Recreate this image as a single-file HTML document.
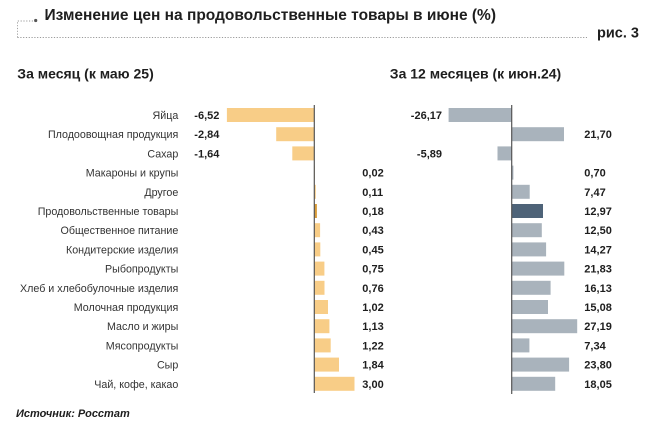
<!DOCTYPE html>
<html><head><meta charset="utf-8"><style>
html,body{margin:0;padding:0;background:#fff;}
svg{display:block;}
text{font-family:"Liberation Sans",Arial,sans-serif;}
</style></head><body>
<svg width="650" height="424" viewBox="0 0 650 424" xmlns="http://www.w3.org/2000/svg">
<rect width="650" height="424" fill="#fff"/>
<!-- header frame -->
<path d="M17.5 37.5 L17.5 21 L33 21" fill="none" stroke="#9a9a9a" stroke-width="0.9" stroke-dasharray="1.2,1.6"/>
<path d="M17.5 37.5 L587 37.5" fill="none" stroke="#9a9a9a" stroke-width="0.9" stroke-dasharray="1.2,1.6"/>
<circle cx="35.7" cy="20.5" r="1.6" fill="#555"/>
<text x="44.5" y="20" font-size="15.5" font-weight="bold" fill="#1e1e1e">Изменение цен на продовольственные товары в июне (%)</text>
<text x="597" y="37.5" font-size="14.5" font-weight="bold" fill="#1e1e1e">рис. 3</text>
<text x="17.3" y="78.3" font-size="14" font-weight="bold" fill="#1e1e1e">За месяц (к маю 25)</text>
<text x="389.8" y="78.3" font-size="14" font-weight="bold" fill="#1e1e1e">За 12 месяцев (к июн.24)</text>

<!-- left bars -->
<g fill="#F8CD87">
<rect x="226.9" y="108" width="87.4" height="14"/>
<rect x="276.2" y="127.2" width="38.1" height="14"/>
<rect x="292.3" y="146.4" width="22" height="14"/>
<rect x="314.3" y="165.6" width="0.5" height="14"/>
<rect x="314.3" y="184.8" width="1.5" height="14"/>
<rect x="314.3" y="204" width="2.6" height="14" fill="#D89C3A"/>
<rect x="314.3" y="223.2" width="5.8" height="14"/>
<rect x="314.3" y="242.4" width="6" height="14"/>
<rect x="314.3" y="261.6" width="10.1" height="14"/>
<rect x="314.3" y="280.8" width="10.2" height="14"/>
<rect x="314.3" y="300" width="13.7" height="14"/>
<rect x="314.3" y="319.2" width="15.1" height="14"/>
<rect x="314.3" y="338.4" width="16.4" height="14"/>
<rect x="314.3" y="357.6" width="24.7" height="14"/>
<rect x="314.3" y="376.8" width="40.2" height="14"/>
</g>
<line x1="314.3" y1="105" x2="314.3" y2="393" stroke="#555" stroke-width="1.2"/>

<!-- right bars -->
<g fill="#A9B3BC">
<rect x="448.6" y="108" width="63.1" height="14"/>
<rect x="511.7" y="127.2" width="52.3" height="14"/>
<rect x="497.5" y="146.4" width="14.2" height="14"/>
<rect x="511.7" y="165.6" width="1.7" height="14"/>
<rect x="511.7" y="184.8" width="18" height="14"/>
<rect x="511.7" y="204" width="31.3" height="14" fill="#4E6378"/>
<rect x="511.7" y="223.2" width="30.1" height="14"/>
<rect x="511.7" y="242.4" width="34.4" height="14"/>
<rect x="511.7" y="261.6" width="52.6" height="14"/>
<rect x="511.7" y="280.8" width="38.9" height="14"/>
<rect x="511.7" y="300" width="36.3" height="14"/>
<rect x="511.7" y="319.2" width="65.5" height="14"/>
<rect x="511.7" y="338.4" width="17.7" height="14"/>
<rect x="511.7" y="357.6" width="57.4" height="14"/>
<rect x="511.7" y="376.8" width="43.5" height="14"/>
</g>
<line x1="511.7" y1="105" x2="511.7" y2="394" stroke="#555" stroke-width="1.2"/>

<!-- categories -->
<g font-size="10.7" fill="#333" text-anchor="end">
<text x="178.3" y="119">Яйца</text>
<text x="178.3" y="138.2">Плодоовощная продукция</text>
<text x="178.3" y="157.4">Сахар</text>
<text x="178.3" y="176.6">Макароны и крупы</text>
<text x="178.3" y="195.8">Другое</text>
<text x="178.3" y="215">Продовольственные товары</text>
<text x="178.3" y="234.2">Общественное питание</text>
<text x="178.3" y="253.4">Кондитерские изделия</text>
<text x="178.3" y="272.6">Рыбопродукты</text>
<text x="178.3" y="291.8">Хлеб и хлебобулочные изделия</text>
<text x="178.3" y="311">Молочная продукция</text>
<text x="178.3" y="330.2">Масло и жиры</text>
<text x="178.3" y="349.4">Мясопродукты</text>
<text x="178.3" y="368.6">Сыр</text>
<text x="178.3" y="387.8">Чай, кофе, какао</text>
</g>

<!-- left values -->
<g font-size="11" font-weight="bold" fill="#1e1e1e">
<text x="194.3" y="119">-6,52</text>
<text x="194.3" y="138.2">-2,84</text>
<text x="194.3" y="157.4">-1,64</text>
<text x="362.3" y="176.6">0,02</text>
<text x="362.3" y="195.8">0,11</text>
<text x="362.3" y="215">0,18</text>
<text x="362.3" y="234.2">0,43</text>
<text x="362.3" y="253.4">0,45</text>
<text x="362.3" y="272.6">0,75</text>
<text x="362.3" y="291.8">0,76</text>
<text x="362.3" y="311">1,02</text>
<text x="362.3" y="330.2">1,13</text>
<text x="362.3" y="349.4">1,22</text>
<text x="362.3" y="368.6">1,84</text>
<text x="362.3" y="387.8">3,00</text>
</g>

<!-- right values -->
<g font-size="11" font-weight="bold" fill="#1e1e1e">
<text x="442" y="119" text-anchor="end">-26,17</text>
<text x="584.3" y="138.2">21,70</text>
<text x="442" y="157.4" text-anchor="end">-5,89</text>
<text x="584.3" y="176.6">0,70</text>
<text x="584.3" y="195.8">7,47</text>
<text x="584.3" y="215">12,97</text>
<text x="584.3" y="234.2">12,50</text>
<text x="584.3" y="253.4">14,27</text>
<text x="584.3" y="272.6">21,83</text>
<text x="584.3" y="291.8">16,13</text>
<text x="584.3" y="311">15,08</text>
<text x="584.3" y="330.2">27,19</text>
<text x="584.3" y="349.4">7,34</text>
<text x="584.3" y="368.6">23,80</text>
<text x="584.3" y="387.8">18,05</text>
</g>

<text x="16" y="417" font-size="11" font-weight="bold" font-style="italic" fill="#1e1e1e">Источник: Росстат</text>
</svg>
</body></html>
